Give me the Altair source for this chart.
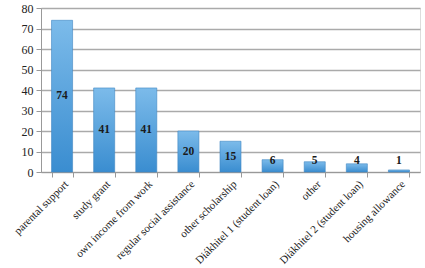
import altair as alt
import pandas as pd

categories = ["parental support", "study grant", "own income from work",
              "regular social assistance", "other scholarship",
              "Diákhitel 1 (student loan)", "other", "Diákhitel 2 (student loan)",
              "housing allowance"]
values = [74, 41, 41, 20, 15, 6, 5, 4, 1]
y_ticks = [0, 10, 20, 30, 40, 50, 60, 70, 80]

df = pd.DataFrame({"cat": categories, "val": values})

FONT = "Liberation Serif"

x_axis = alt.Axis(labelAngle=-45, labelFont=FONT, labelFontSize=11,
                  labelColor="#222", tickBand="extent", tickColor="#999",
                  domainColor="#999", tickSize=5, labelPadding=1, grid=False)
y_axis = alt.Axis(values=y_ticks, labelOverlap=False,
                  labelFont=FONT, labelFontSize=12, labelColor="#222",
                  gridColor="#aaa", gridWidth=1.5, domainColor="#999",
                  tickColor="#999", tickSize=5, labelPadding=3)

bars = alt.Chart(df).mark_bar(
    color=alt.Gradient(gradient="linear", x1=0, y1=0, x2=0, y2=1,
                       stops=[alt.GradientStop(color="#7cbbea", offset=0),
                              alt.GradientStop(color="#3a8dd0", offset=1)]),
    stroke="#3f86c2", strokeWidth=0.6
).encode(
    x=alt.X("cat:N", sort=None, title=None,
            scale=alt.Scale(paddingInner=0.5, paddingOuter=0.25), axis=x_axis),
    y=alt.Y("val:Q", title=None, scale=alt.Scale(domain=[0, 80]), axis=y_axis),
)

text = alt.Chart(df).transform_calculate(
    pos="max(datum.val / 2, 5.3)"
).mark_text(font=FONT, fontSize=11.5, fontWeight="bold", color="#1a1a1a",
            baseline="middle").encode(
    x=alt.X("cat:N", sort=None, title=None, axis=x_axis),
    y=alt.Y("pos:Q", title=None, axis=y_axis),
    text=alt.Text("val:Q"),
)

chart = (bars + text).properties(
    width=379, height=164,
    padding={"left": 41, "top": 8, "right": 5, "bottom": 96},
    autosize=alt.AutoSizeParams(type="none"),
).configure_view(stroke=None).configure(background="white")

chart.save("out.html", embed_options={"renderer": "svg", "actions": False})
